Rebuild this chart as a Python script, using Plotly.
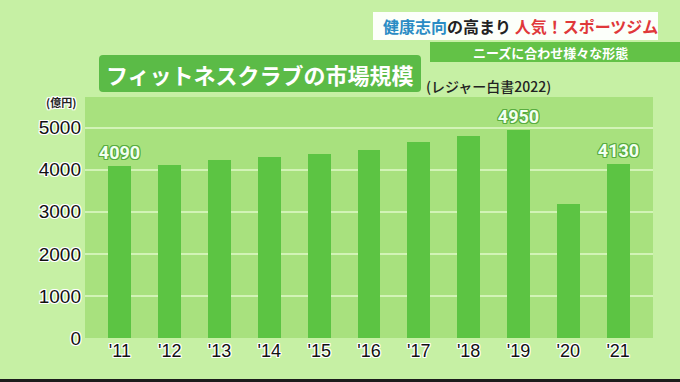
import plotly.graph_objects as go

# ---- data ----
years = ["'11", "'12", "'13", "'14", "'15", "'16", "'17", "'18", "'19", "'20", "'21"]
values = [4090, 4120, 4230, 4310, 4380, 4470, 4670, 4800, 4950, 3190, 4130]
labeled_years = ["'11", "'19", "'21"]
y_ticks = [0, 1000, 2000, 3000, 4000, 5000]

title_text = "フィットネスクラブの市場規模"
source_text = "(レジャー白書2022)"
unit_text = "(億円)"
head_blue = "健康志向"
head_dark = "の高まり"
head_red = "人気！スポーツジム"
sub_text = "ニーズに合わせ様々な形態"

# ---- layout geometry (pixels) ----
W, H = 680, 382
L, R, T, B = 85, 653, 97, 338


def px(x):
    return (x - L) / (R - L)


def py(y):
    return (B - y) / (B - T)


def rounded(x0, y0, x1, y1, r):
    a, b, c, d = px(x0), px(x1), py(y0), py(y1)
    rx = r / (R - L)
    ry = r / (B - T)
    return (f"M{a+rx},{c} L{b-rx},{c} Q{b},{c} {b},{c-ry} L{b},{d+ry} Q{b},{d} {b-rx},{d} "
            f"L{a+rx},{d} Q{a},{d} {a},{d+ry} L{a},{c-ry} Q{a},{c} {a+rx},{c} Z")


bar_text = [str(v) if yr in labeled_years else "" for yr, v in zip(years, values)]

outline_green = "#58ad40"
label_shadow = ", ".join(f"{dx}px {dy}px 0 {outline_green}" for dx in (-1, 0, 1) for dy in (-1, 0, 1)
                         if not (dx == 0 and dy == 0))
white_shadow = ", ".join(f"{dx}px {dy}px 0 #ffffff" for dx in (-1, 0, 1) for dy in (-1, 0, 1)
                         if not (dx == 0 and dy == 0))

fig = go.Figure()
fig.add_trace(go.Bar(
    x=years, y=values, width=0.46,
    marker=dict(color="#5cc443", line=dict(width=0)),
    text=bar_text, textposition="outside", cliponaxis=False, constraintext="none",
    textfont=dict(family="Roboto, sans-serif", size=18,
                  color="#f2fff0", shadow=label_shadow, weight="bold"),
    hoverinfo="skip",
))

shapes = []
# bottom dark edge
shapes.append(dict(type="rect", xref="paper", yref="paper", x0=px(0), x1=px(W), y0=py(382), y1=py(379),
                   fillcolor="#1c1c1c", line=dict(width=0), layer="above"))
# title box
shapes.append(dict(type="path", xref="paper", yref="paper", path=rounded(99, 55, 421, 92, 4),
                   fillcolor="#5bbb47", line=dict(width=0)))
# headline white box
shapes.append(dict(type="rect", xref="paper", yref="paper", x0=px(373), x1=px(658), y0=py(40), y1=py(12),
                   fillcolor="rgba(255,255,255,0.95)", line=dict(width=0)))
# sub headline green box
shapes.append(dict(type="rect", xref="paper", yref="paper", x0=px(430), x1=px(680), y0=py(62), y1=py(42),
                   fillcolor="#63c247", line=dict(width=0)))

annotations = [
    dict(text=title_text, x=px(260), y=py(74), xref="paper", yref="paper", showarrow=False,
         xanchor="center", yanchor="middle",
         font=dict(family="Noto Sans CJK JP", size=22, color="#ffffff", weight="bold")),
    dict(text=source_text, x=px(424), y=py(86), xref="paper", yref="paper", showarrow=False,
         xanchor="left", yanchor="middle",
         font=dict(family="Noto Sans CJK JP", size=14, color="#222222", weight=500)),
    dict(text=unit_text, x=px(61), y=py(102), xref="paper", yref="paper", showarrow=False,
         xanchor="center", yanchor="middle",
         font=dict(family="Noto Sans CJK JP", size=11, color="#222222", weight="bold", shadow=white_shadow)),
    dict(text=(f"<span style='color:#2a8cc4'>{head_blue}</span>"
               f"<span style='color:#222222'>{head_dark}</span> "
               f"<span style='color:#e0383a'>{head_red}</span>"),
         x=px(520), y=py(26), xref="paper", yref="paper", showarrow=False,
         xanchor="center", yanchor="middle",
         font=dict(family="Noto Sans CJK JP", size=16, color="#222222", weight="bold")),
    dict(text=sub_text, x=px(550), y=py(52), xref="paper", yref="paper", showarrow=False,
         xanchor="center", yanchor="middle",
         font=dict(family="Noto Sans CJK JP", size=13, color="#ffffff", weight="bold")),
]

fig.update_layout(
    width=W, height=H,
    margin=dict(l=L, r=W - R, t=T, b=H - B, pad=0),
    paper_bgcolor="#c6f0a4",
    plot_bgcolor="#a8e17e",
    showlegend=False,
    shapes=shapes,
    annotations=annotations,
    bargap=0,
)
fig.update_xaxes(
    range=[-0.7, 10.7], showgrid=False, zeroline=False, showline=False, ticks="",
    tickfont=dict(family="Liberation Sans, Arial, sans-serif", size=18, color="#111111", shadow=white_shadow),
)
fig.update_yaxes(
    range=[0, 5730], tickvals=y_ticks, ticktext=[str(t) for t in y_ticks],
    showgrid=True, gridcolor="#d2f3b6", gridwidth=1.5, zeroline=False, showline=False, ticks="",
    ticklabelstandoff=3,
    tickfont=dict(family="Liberation Sans, Arial, sans-serif", size=19, color="#111111", shadow=white_shadow),
)

fig.write_html("out.html", config={"displayModeBar": False},
               post_script="document.body.style.margin='0';document.body.style.overflow='hidden';")
